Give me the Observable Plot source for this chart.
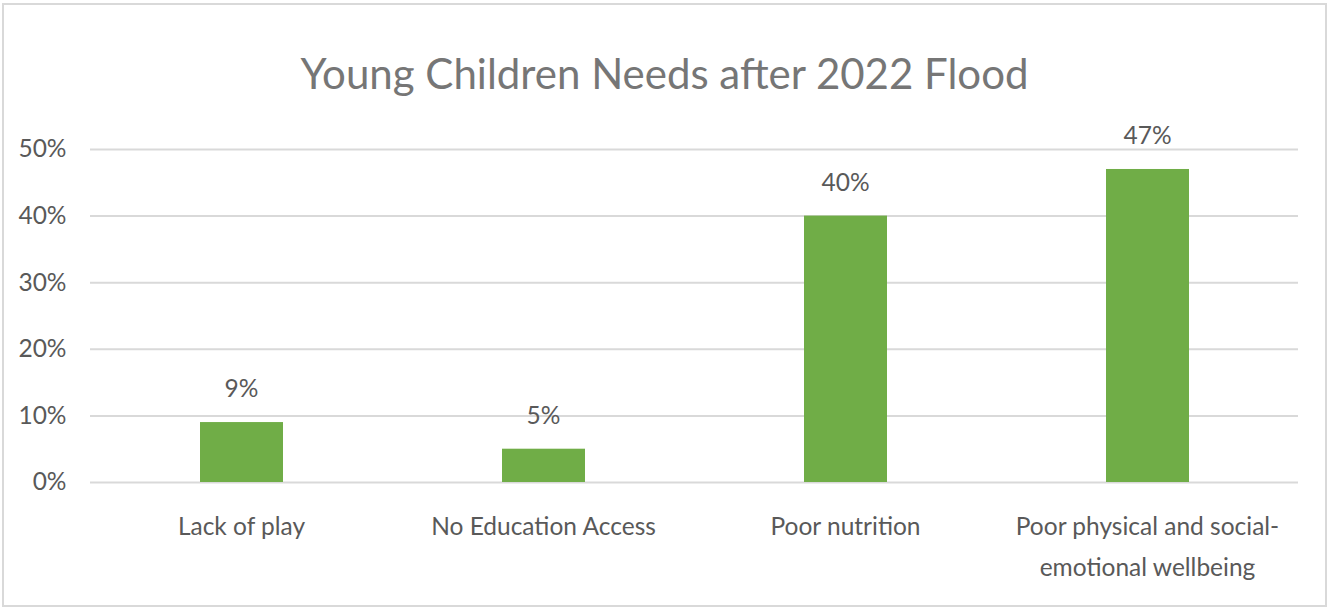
<!DOCTYPE html>
<html>
<head>
<meta charset="utf-8">
<script src="https://cdn.jsdelivr.net/npm/d3@7"></script>
<script src="https://cdn.jsdelivr.net/npm/@observablehq/plot@0.6"></script>
<style>
  html, body { margin: 0; padding: 0; background: #ffffff; }
  #frame {
    position: relative;
    width: 1329px;
    height: 609px;
    overflow: hidden;
    font-family: Lato, "Open Sans", sans-serif;
  }
  #border {
    position: absolute;
    left: 2px; top: 3px; right: 2px; bottom: 2px;
    border: 2px solid #d9d9d9;
  }
  #title {
    position: absolute;
    left: 0; right: 0; top: 43px;
    text-align: center;
    font-size: 42px;
    line-height: 60px;
    color: #767676;
  }
  #chart { position: absolute; left: 0; top: 110px; }
</style>
</head>
<body>
<div id="frame">
  <div id="border"></div>
  <div id="title">Young Children Needs after 2022 Flood</div>
  <div id="chart"></div>
</div>
<script>
// Share of respondents naming each need for young children
const categories = [
  "Lack of play",
  "No Education Access",
  "Poor nutrition",
  "Poor physical and social-\nemotional wellbeing"
];
const shares = [9, 5, 40, 47];
const yTicks = [0, 10, 20, 30, 40, 50];

const rows = categories.map((need, i) => ({need, share: shares[i]}));

const textColor = "#595959";
const fontFamily = 'Lato, "Open Sans", sans-serif';

const plot = Plot.plot({
  width: 1329,
  height: 499,
  marginTop: 39,
  marginBottom: 127,
  marginLeft: 90,
  marginRight: 31,
  style: {fontFamily, fontSize: "24.5px", color: textColor, background: "transparent", overflow: "visible"},
  x: {domain: categories, padding: 0, label: null},
  y: {domain: [0, 50], label: null},
  marks: [
    Plot.gridY(yTicks, {stroke: "#d9d9d9", strokeOpacity: 1, strokeWidth: 2}),
    Plot.barY(rows, {x: "need", y: "share", fill: "#70ad47", insetLeft: 110, insetRight: 109}),
    Plot.text(rows, {
      x: "need", y: "share",
      text: d => d.share + "%",
      dy: -33,
      fill: textColor,
      fontSize: 24.5
    }),
    Plot.axisY(yTicks, {
      tickSize: 0, tickPadding: 24,
      tickFormat: d => d + "%",
      fill: textColor, fontSize: 24.5, label: null
    }),
    Plot.axisX({
      tickSize: 0, tickPadding: 23,
      lineAnchor: "top", lineHeight: 1.68,
      fill: textColor, fontSize: 24.5, label: null
    })
  ]
});
document.getElementById("chart").appendChild(plot);
</script>
</body>
</html>
